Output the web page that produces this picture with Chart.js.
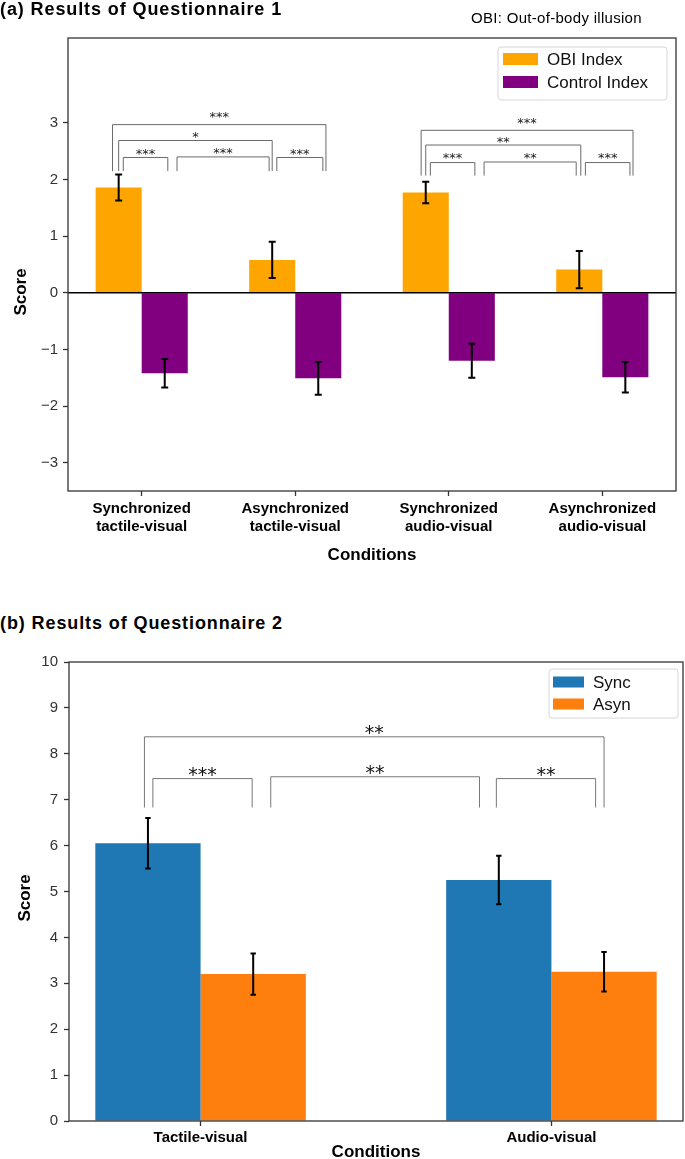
<!DOCTYPE html>
<html>
<head>
<meta charset="utf-8">
<script src="https://cdn.jsdelivr.net/npm/chart.js@4.4.1/dist/chart.umd.min.js"></script>
<style>
  html, body { margin: 0; padding: 0; background: #fff; }
  body { width: 685px; height: 1159px; position: relative; overflow: hidden; font-family: "Liberation Sans", Arial, sans-serif; }
  .panel-title { position: absolute; left: 0; font-weight: bold; font-size: 18px; line-height: 20px; letter-spacing: 0.9px; color: #000; white-space: nowrap; z-index: 2; }
  .note { position: absolute; left: 471px; top: 10px; font-size: 15px; line-height: 16px; letter-spacing: 0.3px; color: #000; white-space: nowrap; z-index: 2; }
  .wrap { position: absolute; left: 0; width: 685px; }
</style>
</head>
<body>
<div class="panel-title" style="top:-1px">(a) Results of Questionnaire 1</div>
<div class="note">OBI: Out-of-body illusion</div>
<div class="wrap" style="top:0;height:570px"><canvas id="chartA"></canvas></div>
<div class="panel-title" style="top:613px">(b) Results of Questionnaire 2</div>
<div class="wrap" style="top:640px;height:519px"><canvas id="chartB"></canvas></div>
<script>
// ---- data: questionnaire 1 ----
const conditionsA = [
    ['Synchronized', 'tactile-visual'],
    ['Asynchronized', 'tactile-visual'],
    ['Synchronized', 'audio-visual'],
    ['Asynchronized', 'audio-visual'],
];
const obiIndex = [1.86, 0.58, 1.77, 0.41];
const obiErr = [0.23, 0.32, 0.19, 0.33];
const controlIndex = [-1.42, -1.51, -1.20, -1.49];
const controlErr = [0.25, 0.29, 0.30, 0.27];
const yTicksA = [-3, -2, -1, 0, 1, 2, 3];
// significance brackets, x in condition units, y in score units
const sigA = [
    { from: -0.19, to: 1.20, top: 2.97, base: 2.15, textY: 3.14, label: '***' },
    { from: -0.15, to: 0.85, top: 2.69, base: 2.15, textY: 2.79, label: '*' },
    { from: -0.12, to: 0.17, top: 2.39, base: 2.15, textY: 2.49, label: '***' },
    { from: 0.23, to: 0.83, top: 2.40, base: 2.15, textY: 2.50, label: '***' },
    { from: 0.88, to: 1.18, top: 2.39, base: 2.15, textY: 2.49, label: '***' },
    { from: 1.82, to: 3.20, top: 2.87, base: 2.07, textY: 3.04, label: '***' },
    { from: 1.85, to: 2.86, top: 2.61, base: 2.07, textY: 2.69, label: '**' },
    { from: 1.88, to: 2.17, top: 2.30, base: 2.07, textY: 2.42, label: '***' },
    { from: 2.23, to: 2.83, top: 2.31, base: 2.07, textY: 2.42, label: '**' },
    { from: 2.89, to: 3.18, top: 2.30, base: 2.07, textY: 2.42, label: '***' },
];

// ---- data: questionnaire 2 ----
const conditionsB = ['Tactile-visual', 'Audio-visual'];
const syncScore = [6.05, 5.25];
const syncErr = [0.55, 0.53];
const asynScore = [3.20, 3.25];
const asynErr = [0.45, 0.43];
const yTicksB = [0, 1, 2, 3, 4, 5, 6, 7, 8, 9, 10];
const sigB = [
    { from: -0.16, to: 1.15, top: 8.37, base: 6.83, textY: 8.54, label: '**' },
    { from: -0.136, to: 0.147, top: 7.46, base: 6.83, textY: 7.62, label: '***' },
    { from: 0.20, to: 0.795, top: 7.50, base: 6.83, textY: 7.66, label: '**' },
    { from: 0.843, to: 1.126, top: 7.46, base: 6.83, textY: 7.62, label: '**' },
];

Chart.defaults.font.family = '"Liberation Sans", Arial, sans-serif';
Chart.defaults.color = '#000';

const points = values => values.map((v, i) => ({ x: i, y: v }));
const minus = v => String(v).replace('-', '\u2212');

// box round the plot, optional zero line
const frame = {
    id: 'frame',
    afterDatasetsDraw(chart, args, opts) {
        const { ctx, chartArea: a, scales: { y } } = chart;
        ctx.save();
        if (opts.zeroLine) {
            const y0 = y.getPixelForValue(0);
            ctx.strokeStyle = '#000';
            ctx.lineWidth = 1.5;
            ctx.beginPath();
            ctx.moveTo(a.left, y0);
            ctx.lineTo(a.right, y0);
            ctx.stroke();
        }
        ctx.strokeStyle = '#333';
        ctx.lineWidth = 1.3;
        ctx.strokeRect(a.left, a.top, a.width, a.height);
        ctx.restore();
    }
};

const errorBars = {
    id: 'errorBars',
    afterDatasetsDraw(chart, args, opts) {
        const { ctx, scales: { y } } = chart;
        const cap = opts.cap;
        ctx.save();
        ctx.strokeStyle = '#000';
        ctx.lineWidth = 2;
        chart.data.datasets.forEach((ds, di) => {
            if (!ds.errors) return;
            chart.getDatasetMeta(di).data.forEach((bar, i) => {
                const v = ds.data[i].y;
                const e = ds.errors[i];
                const hi = y.getPixelForValue(v + e);
                const lo = y.getPixelForValue(v - e);
                ctx.beginPath();
                ctx.moveTo(bar.x, hi);
                ctx.lineTo(bar.x, lo);
                ctx.moveTo(bar.x - cap, hi);
                ctx.lineTo(bar.x + cap, hi);
                ctx.moveTo(bar.x - cap, lo);
                ctx.lineTo(bar.x + cap, lo);
                ctx.stroke();
            });
        });
        ctx.restore();
    }
};

const brackets = {
    id: 'brackets',
    afterDatasetsDraw(chart, args, opts) {
        const { ctx, scales: { x, y } } = chart;
        ctx.save();
        ctx.font = opts.font;
        ctx.textAlign = 'center';
        ctx.textBaseline = 'alphabetic';
        opts.items.forEach(b => {
            const x1 = x.getPixelForValue(b.from);
            const x2 = x.getPixelForValue(b.to);
            const yt = y.getPixelForValue(b.top);
            const yb = y.getPixelForValue(b.base);
            ctx.strokeStyle = opts.lineColor;
            ctx.lineWidth = 1;
            ctx.beginPath();
            ctx.moveTo(x1, yb);
            ctx.lineTo(x1, yt);
            ctx.lineTo(x2, yt);
            ctx.lineTo(x2, yb);
            ctx.stroke();
            const m = ctx.measureText(b.label);
            const cy = y.getPixelForValue(b.textY);
            const base = cy + (m.actualBoundingBoxAscent - m.actualBoundingBoxDescent) / 2;
            ctx.fillStyle = opts.textColor;
            ctx.fillText(b.label, (x1 + x2) / 2, base);
        });
        ctx.restore();
    }
};

// matplotlib-like legend inside the plot
const boxLegend = {
    id: 'boxLegend',
    afterDraw(chart, args, opts) {
        const { ctx } = chart;
        const [bx, by, bw, bh] = opts.box;
        ctx.save();
        ctx.beginPath();
        ctx.roundRect(bx, by, bw, bh, 3);
        ctx.fillStyle = 'rgba(255,255,255,0.9)';
        ctx.fill();
        ctx.strokeStyle = '#d6d6d6';
        ctx.lineWidth = 1;
        ctx.stroke();
        ctx.font = opts.font;
        ctx.textBaseline = 'middle';
        ctx.textAlign = 'left';
        chart.data.datasets.forEach((ds, i) => {
            const ry = opts.rows[i];
            ctx.fillStyle = ds.backgroundColor;
            ctx.fillRect(opts.swatchX, ry - opts.swatchH / 2, opts.swatchW, opts.swatchH);
            ctx.fillStyle = '#111';
            ctx.fillText(ds.label, opts.textX, ry + 1);
        });
        ctx.restore();
    }
};

const yTitle = {
    id: 'yTitle',
    afterDraw(chart, args, opts) {
        const { ctx } = chart;
        ctx.save();
        ctx.translate(opts.x, opts.y);
        ctx.rotate(-Math.PI / 2);
        ctx.font = 'bold 17px "Liberation Sans", Arial, sans-serif';
        ctx.fillStyle = '#000';
        ctx.textAlign = 'center';
        ctx.textBaseline = 'middle';
        ctx.fillText(opts.text, 0, 0);
        ctx.restore();
    }
};

const tickFont = { size: 15 };
const labelFont = { size: 15, weight: 'bold', lineHeight: 1.25 };
const axisTitleFont = { size: 17, weight: 'bold', lineHeight: 1.2 };

const chartA = new Chart(document.getElementById('chartA'), {
    type: 'bar',
    data: {
        datasets: [
            {
                label: 'OBI Index',
                data: points(obiIndex),
                errors: obiErr,
                backgroundColor: '#ffa500',
                categoryPercentage: 0.6,
                barPercentage: 1,
            },
            {
                label: 'Control Index',
                data: points(controlIndex),
                errors: controlErr,
                backgroundColor: '#800080',
                categoryPercentage: 0.6,
                barPercentage: 1,
            },
        ],
    },
    options: {
        responsive: true,
        maintainAspectRatio: false,
        animation: false,
        layout: { padding: { top: 38, right: 9, left: 0, bottom: 0 } },
        scales: {
            x: {
                type: 'linear',
                min: -0.48,
                max: 3.48,
                offset: false,
                afterBuildTicks: s => { s.ticks = conditionsA.map((c, i) => ({ value: i })); },
                afterFit: s => { s.height = 79; },
                border: { display: false },
                grid: { offset: false, drawOnChartArea: false, tickLength: 5, tickColor: '#333', tickWidth: 1.3 },
                ticks: {
                    autoSkip: false, maxRotation: 0, padding: 3, color: '#000', font: labelFont,
                    callback: v => conditionsA[v],
                },
                title: { display: true, text: 'Conditions', font: axisTitleFont, color: '#000', padding: { top: 0, bottom: 4 } },
            },
            y: {
                min: -3.5,
                max: 4.5,
                afterBuildTicks: s => { s.ticks = yTicksA.map(v => ({ value: v })); },
                afterFit: s => { s.width = 68; },
                border: { display: false },
                grid: { drawOnChartArea: false, tickLength: 5, tickColor: '#333', tickWidth: 1.3 },
                ticks: { padding: 5, color: '#333', font: tickFont, callback: v => minus(v) },
            },
        },
        plugins: {
            legend: { display: false },
            tooltip: { enabled: false },
            frame: { zeroLine: true },
            errorBars: { cap: 3.5 },
            brackets: { items: sigA, font: '13px "DejaVu Sans", sans-serif', lineColor: '#6a6a6a', textColor: '#222' },
            boxLegend: { box: [498, 47, 169, 53], rows: [59, 82], swatchX: 503, swatchW: 35, swatchH: 12, textX: 547, font: '17px "Liberation Sans", Arial, sans-serif' },
            yTitle: { text: 'Score', x: 21, y: 292 },
        },
    },
    plugins: [frame, errorBars, brackets, boxLegend, yTitle],
});

const chartB = new Chart(document.getElementById('chartB'), {
    type: 'bar',
    data: {
        datasets: [
            {
                label: 'Sync',
                data: points(syncScore),
                errors: syncErr,
                backgroundColor: '#1f77b4',
                categoryPercentage: 0.6,
                barPercentage: 1,
            },
            {
                label: 'Asyn',
                data: points(asynScore),
                errors: asynErr,
                backgroundColor: '#ff7f0e',
                categoryPercentage: 0.6,
                barPercentage: 1,
            },
        ],
    },
    options: {
        responsive: true,
        maintainAspectRatio: false,
        animation: false,
        layout: { padding: { top: 22, right: 2, left: 0, bottom: 0 } },
        scales: {
            x: {
                type: 'linear',
                min: -0.375,
                max: 1.375,
                offset: false,
                afterBuildTicks: s => { s.ticks = conditionsB.map((c, i) => ({ value: i })); },
                afterFit: s => { s.height = 38; },
                border: { display: false },
                grid: { offset: false, drawOnChartArea: false, tickLength: 5, tickColor: '#333', tickWidth: 1.3 },
                ticks: {
                    autoSkip: false, maxRotation: 0, padding: 2, color: '#000', font: labelFont,
                    callback: v => conditionsB[v],
                },
                title: { display: true, text: 'Conditions', font: { size: 17, weight: 'bold', lineHeight: 1 }, color: '#000', padding: { top: 0, bottom: -2 } },
            },
            y: {
                min: 0,
                max: 10,
                afterBuildTicks: s => { s.ticks = yTicksB.map(v => ({ value: v })); },
                afterFit: s => { s.width = 69; },
                border: { display: false },
                grid: { drawOnChartArea: false, tickLength: 5, tickColor: '#333', tickWidth: 1.3 },
                ticks: { padding: 6, color: '#333', font: tickFont },
            },
        },
        plugins: {
            legend: { display: false },
            tooltip: { enabled: false },
            frame: { zeroLine: false },
            errorBars: { cap: 2.7 },
            brackets: { items: sigB, font: '19px "DejaVu Sans", sans-serif', lineColor: '#777', textColor: '#111' },
            boxLegend: { box: [549, 29, 129, 49], rows: [42, 64], swatchX: 553, swatchW: 31, swatchH: 11, textX: 593, font: '17px "Liberation Sans", Arial, sans-serif' },
            yTitle: { text: 'Score', x: 25, y: 258 },
        },
    },
    plugins: [frame, errorBars, brackets, boxLegend, yTitle],
});
</script>
</body>
</html>
